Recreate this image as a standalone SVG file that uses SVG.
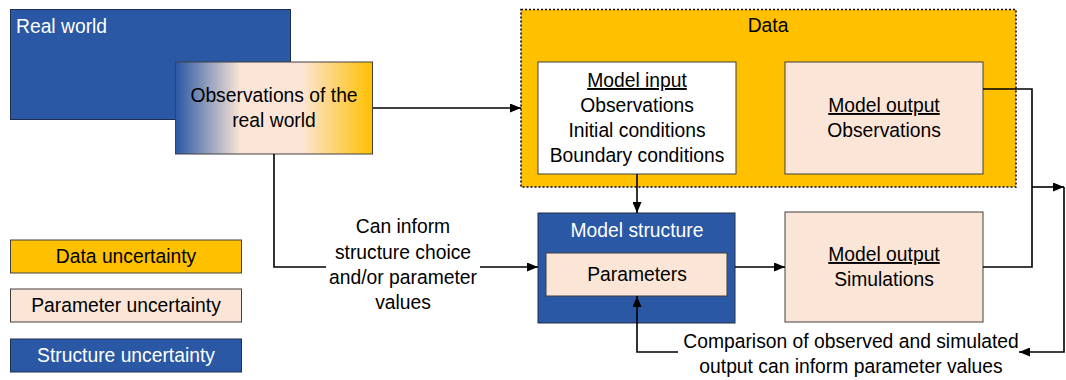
<svg xmlns="http://www.w3.org/2000/svg" width="1066" height="380" viewBox="0 0 1066 380">
<defs>
  <linearGradient id="obsGrad" x1="0" y1="0" x2="1" y2="0">
    <stop offset="0" stop-color="#2A58A4"/>
    <stop offset="0.33" stop-color="#FBE5D6"/>
    <stop offset="0.64" stop-color="#FBE5D6"/>
    <stop offset="1" stop-color="#FFC000"/>
  </linearGradient>
  <marker id="arr" markerWidth="11" markerHeight="9" refX="11" refY="4.5" orient="auto" markerUnits="userSpaceOnUse">
    <path d="M0,0 L11,4.5 L0,9 z" fill="#000"/>
  </marker>
</defs>
<style>
  text { font-family: "Liberation Sans", Arial, sans-serif; font-size: 19.3px; fill: #000; }
  .c { text-anchor: middle; }
  .w { fill: #fff; }
  .u { text-decoration: underline; }
  .blue { fill: #2A58A4; stroke: #1F2F4F; stroke-width: 1; }
  .peach { fill: #FBE5D6; stroke: #404040; stroke-width: 1; }
  .yellow { fill: #FFC000; stroke: #404040; stroke-width: 1; }
  .white { fill: #fff; stroke: #404040; stroke-width: 1; }
  .conn { fill: none; stroke: #000; stroke-width: 1.6; }
</style>

<g id="real-world">
  <rect class="blue" x="10.5" y="9.5" width="280" height="110"/>
  <text class="w" x="16" y="33">Real world</text>
</g>

<g id="observations">
  <rect x="175.5" y="62" width="197" height="92" fill="url(#obsGrad)" stroke="#404040" stroke-width="1"/>
  <text class="c" x="274" y="102">Observations of the</text>
  <text class="c" x="274" y="127">real world</text>
</g>

<g id="data">
  <rect x="521" y="9.5" width="495" height="177.5" fill="#FFC000" stroke="#000" stroke-width="1.5" stroke-dasharray="2,2"/>
  <text class="c" x="768" y="32">Data</text>
</g>

<g id="model-input">
  <rect class="white" x="538" y="62" width="198" height="112"/>
  <text class="c u" x="637" y="87">Model input</text>
  <text class="c" x="637" y="112">Observations</text>
  <text class="c" x="637" y="137">Initial conditions</text>
  <text class="c" x="637" y="162">Boundary conditions</text>
</g>

<g id="model-output-observations">
  <rect class="peach" x="785" y="62" width="198" height="112"/>
  <text class="c u" x="884" y="112">Model output</text>
  <text class="c" x="884" y="137">Observations</text>
</g>

<g id="model-structure">
  <rect class="blue" x="538" y="213" width="197" height="110"/>
  <text class="c w" x="637" y="237">Model structure</text>
</g>

<g id="parameters">
  <rect class="peach" x="546" y="253" width="181" height="43"/>
  <text class="c" x="637" y="281">Parameters</text>
</g>

<g id="model-output-simulations">
  <rect class="peach" x="785" y="212" width="198" height="110"/>
  <text class="c u" x="884" y="261">Model output</text>
  <text class="c" x="884" y="286">Simulations</text>
</g>

<g id="legend-data">
  <rect class="yellow" x="10.5" y="240" width="231" height="33"/>
  <text class="c" x="126" y="263">Data uncertainty</text>
</g>
<g id="legend-parameter">
  <rect class="peach" x="10.5" y="289" width="231" height="33"/>
  <text class="c" x="126" y="312">Parameter uncertainty</text>
</g>
<g id="legend-structure">
  <rect class="blue" x="10.5" y="339" width="231" height="33"/>
  <text class="c w" x="126" y="362">Structure uncertainty</text>
</g>

<g id="connectors">
  <path class="conn" d="M373,108 H521" marker-end="url(#arr)"/>
  <path class="conn" d="M637,174 V213" marker-end="url(#arr)"/>
  <path class="conn" d="M274,154 V267 H538" marker-end="url(#arr)"/>
  <path class="conn" d="M735,267 H785" marker-end="url(#arr)"/>
  <path class="conn" d="M983,89 H1032 V267 H983"/>
  <path class="conn" d="M1032,187 H1064" marker-end="url(#arr)"/>
  <path class="conn" d="M1064,187 V352 H1019" marker-end="url(#arr)"/>
  <path class="conn" d="M678,352 H637 V296" marker-end="url(#arr)"/>
  <g id="label-inform">
    <rect x="326" y="212" width="154" height="104" fill="#fff"/>
    <text class="c" x="403" y="233">Can inform</text>
    <text class="c" x="403" y="259">structure choice</text>
    <text class="c" x="403" y="284">and/or parameter</text>
    <text class="c" x="403" y="309">values</text>
  </g>
  <g id="label-comparison">
    <text class="c" x="851" y="348">Comparison of observed and simulated</text>
    <text class="c" x="851" y="373">output can inform parameter values</text>
  </g>
</g>
</svg>
